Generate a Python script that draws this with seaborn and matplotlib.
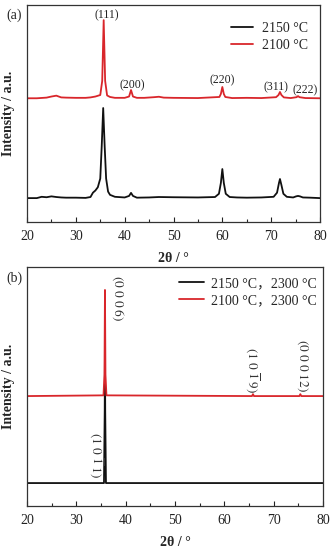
import numpy as np
import pandas as pd
import seaborn as sns
import matplotlib
matplotlib.use("Agg")
import matplotlib.pyplot as plt
from matplotlib.ticker import MultipleLocator

# ---------------- data ----------------
# Panel (a)
a_black_x = [20, 22, 23, 24, 25, 26, 27, 28, 30, 32, 33, 33.5, 34, 34.5, 35.0, 35.3, 35.6, 35.9, 36.2, 36.6,
             37, 38, 40, 40.9, 41.3, 41.7, 42.5, 45, 47, 50, 55, 58.5, 59.3, 59.7, 60.0, 60.3, 60.7, 61.5,
             63, 65, 68, 70.5, 71.2, 71.6, 71.8, 72.1, 72.5, 73.2, 74.5, 75.1, 75.5, 75.9, 76.5, 78, 80]
a_black_y = [11, 11, 11.6, 11.4, 11.8, 11.5, 11.3, 11.2, 11.2, 11.1, 11.5, 13.5, 14.5, 16, 20, 35, 52.5, 35, 20, 14,
             12.5, 11.6, 11.3, 12, 13.4, 12, 11.2, 11.3, 11.5, 11.4, 11.3, 11.5, 13, 18, 24.4, 18, 13, 11.5,
             11.3, 11.2, 11.3, 11.6, 13.5, 18, 19.8, 17, 13, 11.6, 11.3, 11.8, 12, 11.8, 11.3, 11.2, 11]
a_red_x = [20, 22, 24, 25, 26, 26.5, 27, 28, 30, 32, 33, 34, 35.0, 35.4, 35.7, 36.0, 36.4, 37, 38, 40,
           40.9, 41.3, 41.7, 42.5, 44, 46, 47, 48, 50, 55, 59.4, 59.7, 60.0, 60.3, 60.6, 62, 65, 68,
           71.0, 71.5, 71.8, 72.1, 72.6, 74, 75.2, 75.5, 75.8, 77, 80]
a_red_y = [57, 57, 57.3, 57.8, 58.2, 57.8, 57.4, 57.3, 57.2, 57.2, 57.4, 57.8, 58.5, 65, 93, 65, 58.3, 57.6, 57.2, 57.2,
           57.8, 60.8, 57.8, 57.2, 57.2, 57.5, 57.7, 57.3, 57.2, 57.1, 57.6, 59, 62.2, 59, 57.6, 57.1, 57.2, 57.1,
           57.5, 58.5, 59.9, 58.5, 57.4, 57.1, 57.5, 58.0, 57.5, 57.1, 57]
a_labels = ["(111)", "(200)", "(220)", "(311)", "(222)"]
a_label_x = [36.4, 41.5, 59.9, 71.0, 76.9]
a_label_y = [95.4, 63, 65.4, 62.2, 60.8]
a_legend = ["2150 °C", "2100 °C"]

# Panel (b)
b_black_x = [20, 35.6, 35.75, 35.8, 35.85, 36.0, 80]
b_black_y = [9.6, 9.6, 40, 67, 40, 9.6, 9.6]
b_red_x = [20, 35.5, 35.7, 35.8, 35.9, 36.1, 65.6, 65.8, 66.0, 75.2, 75.4, 75.6, 80]
b_red_y = [46, 46.3, 55, 90.4, 55, 46.3, 46, 46.8, 46, 46, 46.8, 46, 46]
b_labels = [r"$(0\ 0\ 0\ 6)$", r"$(1\ 0\ \overline{1}\ 9)$", r"$(0\ 0\ 0\ 12)$", r"$(1\ 0\ \overline{1}\ 1)$"]
b_label_x = [38.5, 65.8, 75.8, 34.2]
b_label_y = [87, 57, 59, 21.3]
b_legend = ["2150 °C，2300 °C", "2100 °C，2300 °C"]

BLACK = "#111111"
RED = "#d9262b"

sns.set_style("ticks")
plt.rcParams["font.family"] = ["Liberation Serif", "Noto Sans CJK SC"]
plt.rcParams["mathtext.fontset"] = "stix"
plt.rcParams["xtick.direction"] = "in"
plt.rcParams["ytick.direction"] = "in"

fig = plt.figure(figsize=(3.36, 5.5), dpi=100)
ax_a = fig.add_axes([0.0804, 0.5964, 0.872, 0.3946])
ax_b = fig.add_axes([0.0804, 0.0800, 0.881, 0.4345])


def style_axis(ax):
    ax.set_xlim(20, 80)
    ax.set_ylim(0, 100)
    ax.xaxis.set_major_locator(MultipleLocator(10))
    ax.xaxis.set_minor_locator(MultipleLocator(5))
    ax.tick_params(axis="x", which="major", length=3.5, width=0.8, labelsize=10, pad=6, colors="#222222")
    ax.tick_params(axis="x", which="minor", length=2, width=0.8)
    ax.set_yticks([])
    for s in ax.spines.values():
        s.set_visible(True)
        s.set_linewidth(0.9)
        s.set_color("#333333")
    ax.set_xlabel("2θ / °", fontsize=10, fontweight="bold", labelpad=6)
    ax.set_ylabel("Intensity / a.u.", fontsize=10, fontweight="bold", labelpad=9)


# panel (a)
df_a_black = pd.DataFrame({"x": a_black_x, "y": a_black_y})
df_a_red = pd.DataFrame({"x": a_red_x, "y": a_red_y})
sns.lineplot(data=df_a_black, x="x", y="y", ax=ax_a, color=BLACK, lw=1.3, label=a_legend[0])
sns.lineplot(data=df_a_red, x="x", y="y", ax=ax_a, color=RED, lw=1.3, label=a_legend[1])
style_axis(ax_a)
for t, x, y in zip(a_labels, a_label_x, a_label_y):
    ax_a.text(x, y, t, fontsize=8.5, ha="center", va="center", color="#222222")
ax_a.legend(loc="upper right", frameon=False, fontsize=10, handlelength=1.6, handletextpad=0.6,
            bbox_to_anchor=(1.0, 0.98), labelspacing=0.3)
fig.text(14 / 336, 1 - 15 / 550, "(a)", fontsize=10, ha="center", va="center")

# panel (b)
df_b_black = pd.DataFrame({"x": b_black_x, "y": b_black_y})
df_b_red = pd.DataFrame({"x": b_red_x, "y": b_red_y})
sns.lineplot(data=df_b_black, x="x", y="y", ax=ax_b, color=BLACK, lw=1.3, label=b_legend[0])
sns.lineplot(data=df_b_red, x="x", y="y", ax=ax_b, color=RED, lw=1.3, label=b_legend[1])
style_axis(ax_b)
for t, x, y in zip(b_labels, b_label_x, b_label_y):
    ax_b.text(x, y, t, fontsize=9.5, ha="center", va="center", rotation=-90, color="#333333")
ax_b.legend(loc="upper right", frameon=False, fontsize=10, handlelength=1.8, handletextpad=0.5,
            bbox_to_anchor=(1.02, 1.01), labelspacing=0.3)
fig.text(14 / 336, 1 - 278 / 550, "(b)", fontsize=10, ha="center", va="center")

fig.savefig("out.png", dpi=100)
